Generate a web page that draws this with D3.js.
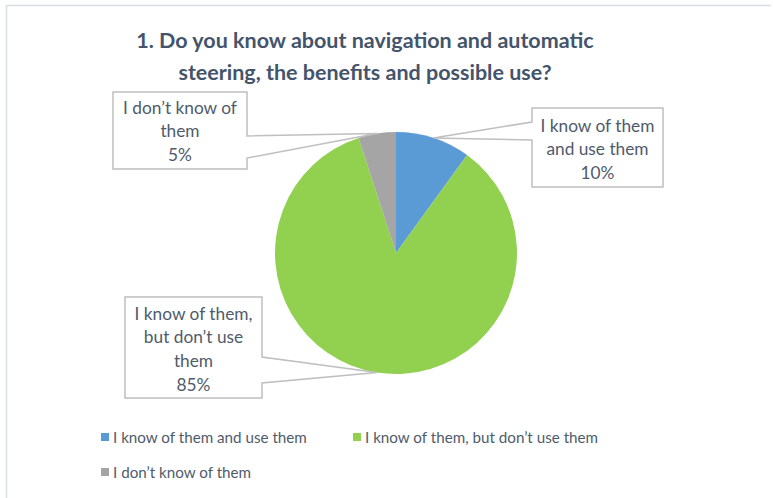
<!DOCTYPE html>
<html>
<head>
<meta charset="utf-8">
<script src="https://cdn.jsdelivr.net/npm/d3@7"></script>
<style>
  html, body { margin: 0; padding: 0; background: #ffffff; }
  svg { display: block; }
  text { font-family: Lato, "Open Sans", sans-serif; }
</style>
</head>
<body>
<svg id="chart" width="773" height="498"></svg>
<script>
// Survey answers and their shares (percent)
const categories = [
  "I know of them and use them",
  "I know of them, but don\u2019t use them",
  "I don\u2019t know of them"
];
const values = [10, 85, 5];
const colors = ["#5B9BD5", "#92D050", "#A5A5A5"];
// Wrapped text for each data-label callout
const labelLines = [
  ["I know of them", "and use them"],
  ["I know of them,", "but don\u2019t use", "them"],
  ["I don\u2019t know of", "them"]
];
const titleLines = [
  "1. Do you know about navigation and automatic",
  "steering, the benefits and possible use?"
];

const svg = d3.select("#chart");
const W = 773, H = 498;

// Frame edges of the chart area
svg.append("line").attr("x1", 6.5).attr("y1", 5.5).attr("x2", 771).attr("y2", 5.5)
  .attr("stroke", "#d9dee4").attr("stroke-width", 1.5);
svg.append("line").attr("x1", 6.5).attr("y1", 5.5).attr("x2", 6.5).attr("y2", H)
  .attr("stroke", "#d9dee4").attr("stroke-width", 1.5);

// Title
svg.append("text")
  .attr("x", 365).attr("y", 48)
  .attr("text-anchor", "middle")
  .attr("fill", "#44546A")
  .attr("font-size", 21.5).attr("font-weight", "bold")
  .selectAll("tspan").data(titleLines).join("tspan")
  .attr("x", 365).attr("dy", (d, i) => i === 0 ? 0 : 32)
  .text(d => d);

// Pie
const cx = 396, cy = 253, r = 121;
const pie = d3.pie().sort(null).value(d => d);
const arcs = pie(values);
const arc = d3.arc().innerRadius(0).outerRadius(r);
const edge = d3.arc().innerRadius(r).outerRadius(r);

const g = svg.append("g").attr("transform", `translate(${cx},${cy})`);
g.selectAll("path").data(arcs).join("path")
  .attr("d", arc)
  .attr("fill", (d, i) => colors[i]);

// Callout boxes: rectangle + wedge pointing to the slice edge
const boxes = [
  { x: 532, y: 108, w: 131, h: 79, side: "left",  a: 122, b: 140, lineY: 125 },
  { x: 125, y: 297, w: 137, h: 101, side: "right", a: 357, b: 383, lineY: 313 },
  { x: 113, y: 92,  w: 134, h: 77, side: "right", a: 136, b: 158, lineY: 107 }
];

const labelText = "#4f5b6b";
arcs.forEach((d, i) => {
  const bx = boxes[i];
  const [px, py] = edge.centroid(d);
  const tip = [cx + px, cy + py];
  const x0 = bx.x, x1 = bx.x + bx.w, y0 = bx.y, y1 = bx.y + bx.h;
  let pts;
  if (bx.side === "right") {
    pts = [[x0, y0], [x1, y0], [x1, bx.a], tip, [x1, bx.b], [x1, y1], [x0, y1]];
  } else {
    pts = [[x0, y0], [x1, y0], [x1, y1], [x0, y1], [x0, bx.b], tip, [x0, bx.a]];
  }
  svg.append("path")
    .attr("d", d3.line()(pts) + "Z")
    .attr("fill", "#ffffff")
    .attr("stroke", "#bfbfbf")
    .attr("stroke-width", 1.5)
    .attr("stroke-linejoin", "miter");

  const lines = labelLines[i].concat([d3.format(".0f")(d.data) + "%"]);
  const tcx = x0 + bx.w / 2;
  svg.append("text")
    .attr("text-anchor", "middle")
    .attr("fill", labelText)
    .attr("font-size", 17.3)
    .selectAll("tspan").data(lines).join("tspan")
    .attr("x", tcx)
    .attr("y", (t, j) => bx.lineY + 6.5 + j * 23.7)
    .text(t => t);
});

// Legend
const legendPos = [
  { x: 101, y: 433 },
  { x: 353, y: 433 },
  { x: 101, y: 468 }
];
const leg = svg.append("g");
categories.forEach((c, i) => {
  const p = legendPos[i];
  leg.append("rect").attr("x", p.x).attr("y", p.y).attr("width", 8).attr("height", 8)
    .attr("fill", colors[i]);
  leg.append("text").attr("x", p.x + 12).attr("y", p.y + 10)
    .attr("fill", labelText).attr("font-size", 15.2)
    .text(c);
});
</script>
</body>
</html>
